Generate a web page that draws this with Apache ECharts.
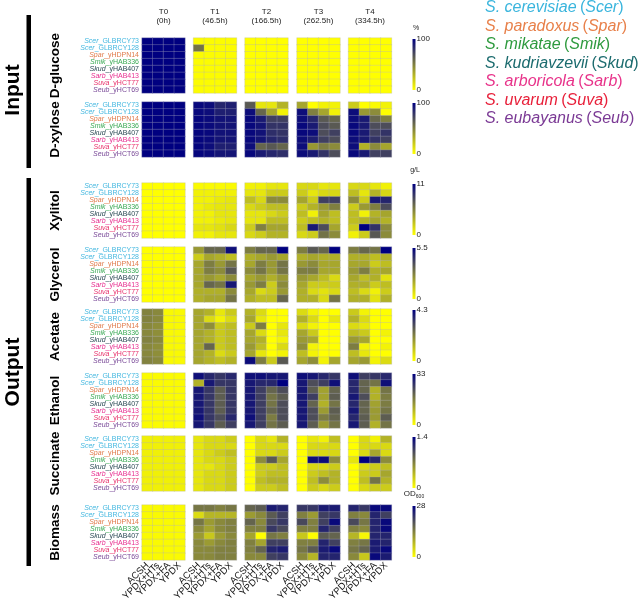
<!DOCTYPE html>
<html><head><meta charset="utf-8">
<script src="https://cdn.jsdelivr.net/npm/echarts@6/dist/echarts.min.js"></script>
<style>html,body{margin:0;padding:0;background:#fff}#c{width:638px;height:605px}</style>
</head><body><div id="c"></div>
<script>
const strains = ['Scer_GLBRCY73','Scer_GLBRCY128','Spar_yHDPN14','Smik_yHAB336','Skud_yHAB407','Sarb_yHAB413','Suva_yHCT77','Seub_yHCT69'];
const media = ['ACSH','YPDX+HTs','YPDX+FA','YPDX'];
const timeLabels = ['T0\n(0h)','T1\n(46.5h)','T2\n(166.5h)','T3\n(262.5h)','T4\n(334.5h)'];
const panelNames = ['D-glucose','D-xylose','Xylitol','Glycerol','Acetate','Ethanol','Succinate','Biomass'];
const scaleMax = [100,100,11,5.5,4.3,33,1.4,28];
const scaleMaxLabels = ['100','100','11','5.5','4.3','33','1.4','28'];
const species = ['S. cerevisiae','S. paradoxus','S. mikatae','S. kudriavzevii','S. arboricola','S. uvarum','S. eubayanus'];
const speciesCodes = ['Scer','Spar','Smik','Skud','Sarb','Suva','Seub'];

// values: [time][strain][medium]
const glucose = [
 [[100,100,100,100],[100,100,100,100],[100,100,100,100],[100,100,100,100],[100,100,100,100],[100,100,100,100],[100,100,100,100],[100,100,100,100]],
 [[1,1,1,1],[55,1,1,1],[1,1,1,1],[1,1,1,1],[1,1,1,1],[1,1,1,1],[1,1,1,1],[1,1,1,1]],
 [[0,0,0,0],[0,0,0,0],[0,0,0,0],[0,0,0,0],[0,0,0,0],[0,0,0,0],[0,0,0,0],[0,0,0,0]],
 [[0,0,0,0],[0,0,0,0],[0,0,0,0],[0,0,0,0],[0,0,0,0],[0,0,0,0],[0,0,0,0],[0,0,0,0]],
 [[0,0,0,0],[0,0,0,0],[0,0,0,0],[0,0,0,0],[0,0,0,0],[0,0,0,0],[0,0,0,0],[0,0,0,0]]
];
const xylose = [
 [[100,100,100,100],[100,100,100,100],[100,100,100,100],[100,100,100,100],[100,100,100,100],[100,100,100,100],[100,100,100,100],[100,100,100,100]],
 [[97,95,85,88],[97,95,88,88],[98,96,93,92],[98,96,93,92],[98,97,93,93],[98,96,92,92],[98,95,88,88],[98,96,92,92]],
 [[65,10,10,30],[95,60,35,5],[97,90,75,75],[97,92,80,80],[97,93,82,80],[97,92,85,82],[95,60,65,60],[97,90,85,82]],
 [[35,0,5,5],[95,50,35,5],[95,85,65,60],[97,90,70,65],[97,95,70,75],[95,88,75,70],[95,40,50,45],[95,90,80,70]],
 [[20,0,2,5],[95,40,45,0],[95,90,60,50],[97,90,70,70],[97,90,75,80],[95,90,80,75],[95,30,45,35],[97,90,75,75]]
];
const xylitol = [
 [[0,0,0,0],[0,0,0,0],[0,0,0,0],[0,0,0,0],[0,0,0,0],[0,0,0,0],[0,0,0,0],[0,0,0,0]],
 [[0.2,0.2,0.2,0.2],[0.6,0.6,0.6,0.6],[0.6,0.6,0.9,1.1],[0.6,0.9,1.1,1.1],[0.6,0.6,1.1,1.1],[0.6,0.6,0.9,1.1],[1.1,1.1,1.3,1.7],[0.6,0.6,1.1,1.1]],
 [[0.6,0.6,1.1,1.1],[1.1,1.1,2.2,2.2],[2.8,1.7,5.0,5.0],[1.7,2.2,2.8,2.8],[1.1,1.1,1.7,2.2],[1.1,1.1,2.8,2.8],[2.2,5.5,3.9,3.9],[1.7,2.2,3.3,3.3]],
 [[1.7,1.7,1.1,1.1],[2.2,1.1,1.7,1.7],[3.9,2.2,8.3,8.3],[2.2,3.3,4.4,5.5],[2.8,0.6,3.9,2.8],[2.2,2.8,3.3,2.8],[2.8,9.9,7.7,3.9],[1.7,2.2,6.1,5.0]],
 [[1.7,1.7,1.1,0.6],[2.8,1.1,3.3,1.7],[5.0,2.2,9.9,9.4],[2.2,4.4,5.5,7.7],[2.8,0.6,3.3,3.9],[2.8,3.3,3.9,3.3],[2.2,11.0,8.8,5.0],[0.6,2.2,7.2,5.0]]
];
const glycerol = [
 [[0,0,0,0],[0,0,0,0],[0,0,0,0],[0,0,0,0],[0,0,0,0],[0,0,0,0],[0,0,0,0],[0,0,0,0]],
 [[2.2,3.3,3.3,5.2],[1.1,1.9,1.7,1.4],[1.9,2.8,2.2,3.0],[1.9,2.8,2.5,3.6],[1.9,2.2,1.9,2.5],[1.9,3.3,3.0,5.0],[1.7,1.7,1.7,2.5],[1.7,1.9,1.9,3.0]],
 [[2.8,3.3,3.3,5.5],[1.7,1.9,2.2,1.9],[1.9,2.8,2.2,3.0],[2.5,3.0,2.2,3.0],[1.9,2.2,1.7,2.2],[2.2,2.8,1.1,2.5],[1.9,0.8,1.1,2.2],[1.7,1.4,1.4,3.3]],
 [[2.8,3.6,3.3,5.5],[1.7,1.9,1.7,1.7],[2.2,2.5,1.9,1.9],[2.8,2.8,1.9,1.9],[2.2,1.9,1.4,0.8],[1.9,1.1,1.1,1.1],[1.7,0.8,0.6,0.8],[1.7,1.7,0.8,3.0]],
 [[2.8,3.3,3.0,5.5],[1.7,1.7,1.4,1.7],[1.9,1.9,1.1,1.4],[2.2,2.8,1.7,1.9],[1.9,1.4,1.7,0.6],[1.7,1.7,1.1,1.4],[1.4,0.8,0.3,1.1],[1.7,1.7,0.6,1.7]]
];
const acetate = [
 [[2.1,2.0,0.1,0.1],[2.1,2.0,0.1,0.1],[2.0,1.9,0.1,0.1],[2.0,1.9,0.1,0.1],[2.1,2.0,0.1,0.1],[2.0,1.9,0.1,0.1],[2.0,1.9,0.1,0.1],[2.1,2.0,0.1,0.1]],
 [[1.5,1.3,0.4,0.9],[1.5,0.6,0.2,0.6],[1.5,1.9,0.9,1.1],[1.5,1.3,0.9,1.1],[1.5,1.3,0.9,1.1],[1.5,2.6,0.9,1.1],[1.5,1.3,0.6,0.9],[1.5,1.3,1.1,1.3]],
 [[1.3,0.6,0,0],[1.5,0.4,0,0],[0.9,2.2,0,0.4],[1.5,0.6,0,0.4],[1.5,1.3,0,0.2],[1.7,1.1,0,0.6],[1.5,0.4,0,0.2],[4.1,2.2,0.9,2.8]],
 [[0.6,0.2,0,0],[1.3,0.6,0,0.4],[0.6,0.2,0,0],[1.5,0.9,0,0],[1.7,1.5,0,0],[1.9,0.2,0,0],[1.1,0.2,0,0],[1.5,1.9,0.2,1.5]],
 [[0.9,0.2,0,0],[1.3,0.6,0,0],[0.6,0.4,0,0],[1.1,0.9,0,0.2],[1.7,1.5,0,0],[2.2,0.2,0,0.2],[1.1,0.4,0,0],[1.5,1.7,0.2,0.6]]
];
const ethanol = [
 [[0.5,0.5,0.5,0.5],[0.5,0.5,0.5,0.5],[0.5,0.5,0.5,0.5],[0.5,0.5,0.5,0.5],[0.5,0.5,0.5,0.5],[0.5,0.5,0.5,0.5],[0.5,0.5,0.5,0.5],[0.5,0.5,0.5,0.5]],
 [[31,28,26,28],[10,30,26,26],[30,26,21,26],[30,26,21,26],[30,26,21,26],[30,26,21,26],[31,26,23,28],[30,26,21,25]],
 [[31,31,30,30],[30,28,28,33],[30,25,20,23],[30,25,18,21],[30,25,18,23],[30,25,20,23],[31,25,17,23],[30,25,18,21]],
 [[31,30,28,26],[30,23,25,31],[30,21,12,20],[30,25,12,21],[30,20,10,18],[30,23,13,21],[30,23,17,20],[30,21,13,18]],
 [[31,25,26,28],[28,20,18,31],[28,20,10,18],[30,23,10,17],[28,20,12,17],[30,20,13,18],[28,21,13,21],[30,21,10,18]]
];
const succinate = [
 [[0.08,0.08,0.08,0.08],[0.08,0.08,0.08,0.08],[0.08,0.08,0.08,0.08],[0.08,0.08,0.08,0.08],[0.08,0.08,0.08,0.08],[0.08,0.08,0.08,0.08],[0.08,0.08,0.08,0.08],[0.08,0.08,0.08,0.08]],
 [[0.14,0.21,0.21,0.28],[0.14,0.21,0.21,0.21],[0.14,0.21,0.28,0.35],[0.14,0.21,0.21,0.28],[0.14,0.14,0.21,0.28],[0.14,0.21,0.21,0.28],[0.14,0.21,0.21,0.28],[0.14,0.21,0.21,0.28]],
 [[0,0.21,0.14,0.42],[0,0.21,0.21,0.21],[0,0.21,0.21,0.28],[0,0.63,0.91,0.49],[0,0.28,0.28,0.35],[0,0.28,0.35,0.35],[0,0.35,0.42,0.42],[0,0.28,0.28,0.35]],
 [[0,0.14,0.07,0.35],[0,0.21,0.21,0.21],[0,0.21,0.21,0.21],[0,1.33,1.33,0.63],[0,0.21,0.21,0.28],[0,0.28,0.35,0.42],[0,0.35,0.63,0.42],[0,0.28,0.21,0.28]],
 [[0,0.21,0.07,0.42],[0,0.21,0.21,0.21],[0,0.21,0.49,0.21],[0.14,1.4,1.19,0.63],[0,0.21,0.28,0.35],[0,0.28,0.28,0.49],[0,0.35,0.77,0.42],[0,0.21,0.28,0.28]]
];
const biomass = [
 [[0.5,0.5,0.5,0.5],[0.5,0.5,0.5,0.5],[0.5,0.5,0.5,0.5],[0.5,0.5,0.5,0.5],[0.5,0.5,0.5,0.5],[0.5,0.5,0.5,0.5],[0.5,0.5,0.5,0.5],[0.5,0.5,0.5,0.5]],
 [[15,15,14,15],[4,8,8,8],[15,11,13,14],[13,10,13,14],[11,6,11,13],[13,11,13,14],[13,13,14,14],[13,13,14,14]],
 [[17,18,25,24],[11,13,18,21],[17,13,20,22],[14,14,22,20],[10,0,15,14],[14,10,21,21],[14,17,24,25],[13,13,21,22]],
 [[22,22,25,25],[14,11,21,22],[20,14,21,27],[14,14,24,21],[6,0,18,17],[14,14,24,21],[15,18,25,27],[13,8,24,24]],
 [[24,22,27,27],[14,13,24,21],[20,15,24,27],[14,13,24,27],[8,1,24,24],[14,15,25,24],[15,17,25,27],[13,6,27,25]]
];
const panels = [glucose, xylose, xylitol, glycerol, acetate, ethanol, succinate, biomass];

// ---- layout / styling ----
const GX = [142, 193.5, 245, 297, 348.5];
const GW = 43, GH = 55;
const TOPS = [38, 102, 183, 247, 309, 373, 436, 505];
const labelColors = {Scer:'#45b8e0',Spar:'#e07a4a',Smik:'#3aaa55',Skud:'#2b4a55',Sarb:'#e83090',Suva:'#e8306a',Seub:'#7a4a98'};
const legendColors = ['#3ab5dd','#e8804a','#2e9a3e','#1b6b6e','#e8338a','#e8203a','#7b3a95'];
const FONT = 'Liberation Sans, Arial, sans-serif';

const rich = {};
Object.keys(labelColors).forEach(k => {
  rich[k+'I'] = {color: labelColors[k], fontStyle: 'italic', fontSize: 7, fontFamily: FONT};
  rich[k+'N'] = {color: labelColors[k], fontSize: 7, fontFamily: FONT};
});

const grid = [], xAxis = [], yAxis = [], series = [], visualMap = [];
panels.forEach((pd, p) => {
  const sIdx = [];
  pd.forEach((tm, t) => {
    const g = p * 5 + t;
    grid.push({left: GX[t], top: TOPS[p], width: GW, height: GH});
    xAxis.push({type: 'category', gridIndex: g, data: media,
      axisLine: {show: false}, axisTick: {show: false}, splitLine: {show: false},
      axisLabel: {show: p === panels.length - 1, rotate: 45, interval: 0, fontSize: 9.5, color: '#111', margin: 4, fontFamily: FONT}});
    yAxis.push({type: 'category', gridIndex: g, data: strains, inverse: true,
      axisLine: {show: false}, axisTick: {show: false}, splitLine: {show: false},
      axisLabel: {show: t === 0, interval: 0, margin: 3, rich: rich,
        formatter: v => { const i = v.indexOf('_'); const sp = v.slice(0, i); return '{' + sp + 'I|' + sp + '}{' + sp + 'N|' + v.slice(i) + '}'; }}});
    const data = [];
    tm.forEach((row, r) => row.forEach((v, c) => data.push([c, r, v])));
    sIdx.push(series.length);
    series.push({type: 'heatmap', xAxisIndex: g, yAxisIndex: g, data: data,
      itemStyle: {borderColor: 'rgba(175,175,195,0.5)', borderWidth: 0.6},
      emphasis: {disabled: true}, silent: true, progressive: 0});
  });
  visualMap.push({type: 'continuous', show: false, min: 0, max: scaleMax[p], seriesIndex: sIdx,
    inRange: {color: ['#ffff00', '#000080']}});
});

const graphic = [];
// legend
species.forEach((s, i) => {
  graphic.push({type: 'text', left: 485, top: 0 + i * 18.5,
    style: {text: '{a|' + s + '} {b|(}{a|' + speciesCodes[i] + '}{b|)}',
      rich: {a: {fontStyle: 'italic', fontSize: 16, fill: legendColors[i], fontFamily: FONT},
             b: {fontSize: 16, fill: legendColors[i], fontFamily: FONT}}}});
});
// Input / Output brackets
graphic.push({type: 'rect', shape: {x: 26.5, y: 15, width: 4.5, height: 153}, style: {fill: '#000'}});
graphic.push({type: 'rect', shape: {x: 26.5, y: 178, width: 4.5, height: 388}, style: {fill: '#000'}});
graphic.push({type: 'text', x: 13, y: 90, rotation: Math.PI / 2,
  style: {text: 'Input', fontSize: 21, fontWeight: 'bold', fill: '#000', align: 'center', verticalAlign: 'middle', fontFamily: FONT}});
graphic.push({type: 'text', x: 13, y: 372, rotation: Math.PI / 2,
  style: {text: 'Output', fontSize: 21, fontWeight: 'bold', fill: '#000', align: 'center', verticalAlign: 'middle', fontFamily: FONT}});
// panel names
panelNames.forEach((n, p) => {
  graphic.push({type: 'text', x: 55, y: TOPS[p] + GH / 2, rotation: Math.PI / 2,
    style: {text: n, fontSize: 13.5, fontWeight: 'bold', fill: '#000', align: 'center', verticalAlign: 'middle', fontFamily: FONT}});
});
// column headers
timeLabels.forEach((tl, t) => {
  graphic.push({type: 'text', x: GX[t] + GW / 2, y: 8,
    style: {text: tl, fontSize: 8, lineHeight: 8.5, fill: '#222', align: 'center', verticalAlign: 'top', fontFamily: FONT}});
});
// colour bars
panelNames.forEach((n, p) => {
  const y0 = TOPS[p] + 1, h = 51;
  graphic.push({type: 'rect', shape: {x: 412.5, y: y0, width: 3, height: h},
    style: {fill: new echarts.graphic.LinearGradient(0, 0, 0, 1, [{offset: 0, color: '#000080'}, {offset: 1, color: '#ffff00'}])}});
  graphic.push({type: 'text', x: 416.5, y: y0, style: {text: scaleMaxLabels[p], fontSize: 8, fill: '#222', verticalAlign: 'middle', fontFamily: FONT}});
  graphic.push({type: 'text', x: 416.5, y: y0 + h, style: {text: '0', fontSize: 8, fill: '#222', verticalAlign: 'middle', fontFamily: FONT}});
});
graphic.push({type: 'text', x: 416, y: 28, style: {text: '%', fontSize: 7, fill: '#222', align: 'center', verticalAlign: 'middle', fontFamily: FONT}});
graphic.push({type: 'text', x: 415, y: 170, style: {text: 'g/L', fontSize: 7, fill: '#222', align: 'center', verticalAlign: 'middle', fontFamily: FONT}});
graphic.push({type: 'text', x: 414, y: 494, style: {text: '{a|OD}{b|600}', align: 'center', verticalAlign: 'middle',
  rich: {a: {fontSize: 8, fill: '#222', fontFamily: FONT}, b: {fontSize: 5, fill: '#222', fontFamily: FONT, padding: [5, 0, 0, 0]}}}});

const chart = echarts.init(document.getElementById('c'), null, {renderer: 'canvas'});
chart.setOption({animation: false, backgroundColor: '#fff', grid, xAxis, yAxis, visualMap, series, graphic});
</script></body></html>
